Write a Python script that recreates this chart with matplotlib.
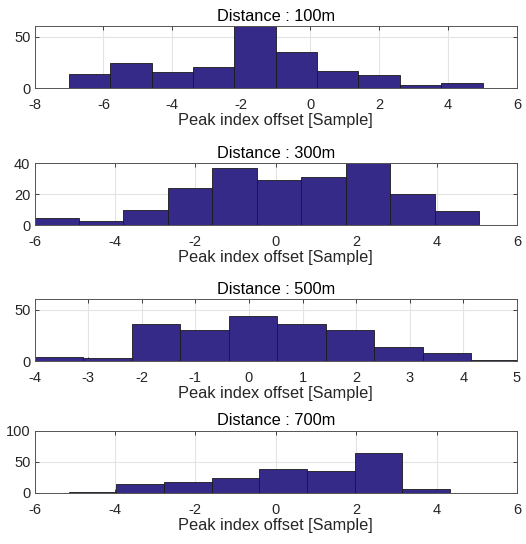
import matplotlib
matplotlib.use("Agg")
import matplotlib.pyplot as plt
import numpy as np

plt.rcParams['font.family'] = ['Liberation Sans', 'DejaVu Sans']

titles = ["Distance : 100m", "Distance : 300m", "Distance : 500m", "Distance : 700m"]

# bin edges (first edge, width) and counts
bin_start = [-7.0, -6.0, -4.0, -5.15]
bin_width = [1.2, 1.106, 0.905, 1.186]
counts_100 = [14, 24, 16, 21, 60, 35, 17, 13, 3, 5]
counts_300 = [5, 3, 10, 24, 37, 29, 31, 40, 20, 9]
counts_500 = [4, 3, 36, 30, 44, 36, 30, 14, 8, 0.8]
counts_700 = [1, 15, 18, 24, 39, 36, 64, 6]
counts = [counts_100, counts_300, counts_500, counts_700]

xlims = [(-8, 6), (-6, 6), (-4, 5), (-6, 6)]
xticks = [np.arange(-8, 7, 2), np.arange(-6, 7, 2), np.arange(-4, 6, 1), np.arange(-6, 7, 2)]
ylims = [(0, 60), (0, 40), (0, 60), (0, 100)]
yticks = [[0, 50], [0, 20, 40], [0, 50], [0, 50, 100]]

bar_color = "#352a87"
box_color = "#262626"

fig = plt.figure(figsize=(5.26, 5.44), dpi=100)
bottoms = [0.8377, 0.5858, 0.3358, 0.0938]

for i in range(4):
    ax = fig.add_axes([0.0656, bottoms[i], 0.9173, 0.1140])
    n = len(counts[i])
    left = bin_start[i] + bin_width[i] * np.arange(n)
    ax.bar(left, counts[i], width=bin_width[i], align="edge",
           color=bar_color, edgecolor="#1a1a1a", linewidth=0.6, zorder=2)
    ax.set_xlim(*xlims[i])
    ax.set_ylim(*ylims[i])
    ax.set_xticks(xticks[i])
    ax.set_xticklabels([f"{t:g}" for t in xticks[i]])
    ax.set_yticks(yticks[i])
    ax.grid(True, color="#e3e3e3", linewidth=0.8, zorder=0)
    ax.set_axisbelow(True)
    ax.tick_params(direction="in", length=3, width=0.6, top=True, right=True,
                   labelsize=10.5, colors=box_color)
    ax.tick_params(axis="x", pad=7)
    ax.tick_params(axis="y", pad=3)
    for s in ax.spines.values():
        s.set_color("#555555")
        s.set_linewidth(0.7)
    ax.set_title(titles[i], fontsize=11.8, pad=4, color="black")
    ax.set_xlabel("Peak index offset [Sample]", fontsize=11.8, labelpad=1, color=box_color)

fig.savefig("out.png", dpi=100)
